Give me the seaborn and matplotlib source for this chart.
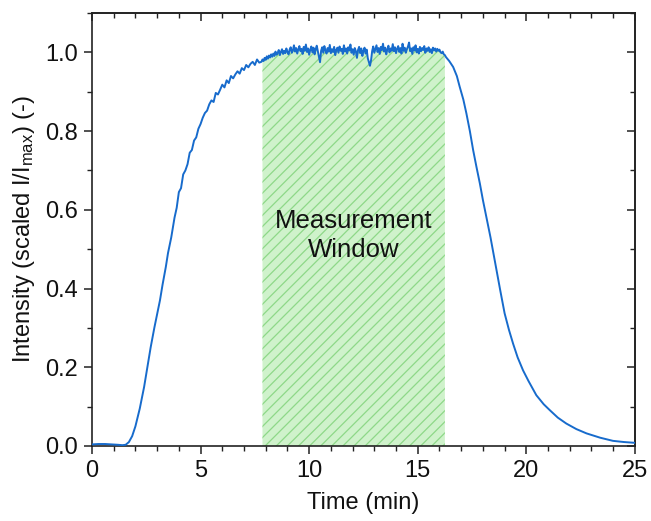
import numpy as np
import pandas as pd
import matplotlib
matplotlib.use('Agg')
import matplotlib.pyplot as plt
import seaborn as sns
from matplotlib.ticker import MultipleLocator, FormatStrFormatter

# rising edge (time in min, scaled intensity)
rise_time = [0.0, 0.3, 0.6, 0.9, 1.2, 1.4, 1.55, 1.7, 1.85, 2.0, 2.2, 2.4, 2.55, 2.7,
             2.87, 3.0, 3.13, 3.25, 3.4, 3.5, 3.65, 3.8, 3.9]
rise_val = [0.004, 0.005, 0.005, 0.004, 0.003, 0.002, 0.003, 0.010, 0.025, 0.050, 0.095,
            0.150, 0.200, 0.250, 0.300, 0.335, 0.370, 0.410, 0.455, 0.490, 0.530, 0.580, 0.605]

# noisy shoulder, every 0.1 min from 4.0 to 7.8
shoulder_start = 4.0
shoulder_val = [
    0.645, 0.655, 0.690, 0.700, 0.716, 0.745, 0.752, 0.776, 0.784, 0.806,
    0.818, 0.834, 0.846, 0.852, 0.868, 0.878, 0.874, 0.897, 0.893, 0.905,
    0.918, 0.911, 0.929, 0.922, 0.940, 0.934, 0.944, 0.952, 0.946, 0.960,
    0.955, 0.968, 0.962, 0.971, 0.976, 0.968, 0.982, 0.974, 0.976,
]

# plateau, every 0.05 min from 7.85 to 16.30
plateau_start = 7.85
plateau_val = [
    0.982, 0.978, 0.986, 0.981, 0.990, 0.984, 0.992, 0.987, 0.995, 0.989,
    0.997, 0.991, 1.002, 0.994, 0.999, 1.006, 0.993, 1.001, 1.008, 0.996,
    1.004, 0.998, 1.010, 1.001, 0.995, 1.007, 1.013, 0.999, 1.005, 1.018,
    1.002, 1.011, 0.997, 1.008, 1.016, 1.003, 1.009, 0.996, 1.014, 1.004,
    1.020, 1.001, 1.010, 0.994, 1.007, 1.015, 1.000, 1.012, 0.995, 1.008,
    1.017, 1.003, 0.988, 0.975, 1.004, 1.013, 0.999, 1.016, 1.005, 0.997,
    1.011, 1.002, 1.019, 0.998, 1.008, 1.001, 1.014, 0.993, 1.006, 1.012,
    0.999, 1.015, 1.004, 1.009, 0.996, 1.018, 1.002, 1.010, 0.997, 1.013,
    1.005, 1.020, 0.999, 1.008, 0.994, 1.011, 1.003, 0.986, 1.006, 1.014,
    0.998, 1.010, 0.991, 1.004, 1.012, 0.997, 1.007, 0.985, 0.975, 0.966,
    0.980, 1.003, 1.015, 0.999, 1.009, 1.018, 1.001, 1.011, 0.996, 1.014,
    1.006, 1.022, 1.002, 1.012, 0.995, 1.008, 1.017, 1.000, 1.010, 1.004,
    1.021, 1.003, 1.013, 0.998, 1.009, 1.016, 1.001, 1.011, 0.997, 1.022,
    1.004, 1.012, 0.999, 1.008, 1.015, 1.025, 1.003, 1.010, 0.996, 1.013,
    1.005, 1.018, 1.000, 1.009, 0.997, 1.014, 1.003, 1.011, 1.006, 1.016,
    0.999, 1.010, 1.004, 1.013, 1.001, 1.008, 0.998, 1.012, 1.005, 1.010,
    1.002, 1.009, 1.004, 1.007, 1.000, 0.998, 1.002, 0.995, 0.993, 0.988,
]

# falling edge and tail
fall_time = [16.45, 16.63, 16.8, 16.93, 17.1, 17.24, 17.4, 17.55, 17.7, 17.86, 18.0,
             18.16, 18.35, 18.6, 18.8, 19.0, 19.2, 19.39, 19.6, 19.85, 20.1, 20.46,
             20.8, 21.08, 21.45, 21.84, 22.3, 22.77, 23.4, 23.99, 24.5, 25.0]
fall_val = [0.978, 0.963, 0.940, 0.913, 0.880, 0.845, 0.800, 0.752, 0.710, 0.667, 0.625,
            0.582, 0.530, 0.455, 0.395, 0.337, 0.295, 0.260, 0.225, 0.192, 0.165, 0.129,
            0.106, 0.091, 0.072, 0.057, 0.043, 0.032, 0.021, 0.013, 0.010, 0.008]

window_start, window_end = 7.82, 16.26

shoulder_time = list(np.round(shoulder_start + 0.1 * np.arange(len(shoulder_val)), 2))
plateau_time = list(np.round(plateau_start + 0.05 * np.arange(len(plateau_val)), 2))
df = pd.DataFrame({
    'time': rise_time + shoulder_time + plateau_time + fall_time,
    'intensity': rise_val + shoulder_val + plateau_val + fall_val,
})

sns.set_theme(style='ticks')
plt.rcParams['font.family'] = ['Liberation Sans', 'DejaVu Sans']
plt.rcParams['mathtext.default'] = 'regular'
plt.rcParams['hatch.linewidth'] = 0.9

fig = plt.figure(figsize=(6.51, 5.21), dpi=100)
ax = fig.add_axes([0.1413, 0.144, 0.834, 0.831])

# measurement window, filled under the curve
win = df[(df['time'] >= window_start) & (df['time'] <= window_end)]
ax.fill_between(win['time'], 0, win['intensity'], facecolor='#cff2cb',
                edgecolor='#8ed888', hatch='///', linewidth=0, zorder=1)

sns.lineplot(data=df, x='time', y='intensity', color='#176bcc', linewidth=1.4,
             estimator=None, ax=ax, zorder=3)

ax.text((window_start + window_end) / 2, 0.535, 'Measurement\nWindow', ha='center',
        va='center', fontsize=18.5, linespacing=1.25, color='#111111')

ax.set_xlim(0, 25)
ax.set_ylim(0, 1.1)
ax.xaxis.set_major_locator(MultipleLocator(5))
ax.xaxis.set_minor_locator(MultipleLocator(1))
ax.yaxis.set_major_locator(MultipleLocator(0.2))
ax.yaxis.set_minor_locator(MultipleLocator(0.1))
ax.yaxis.set_major_formatter(FormatStrFormatter('%.1f'))

ax.set_xlabel('Time (min)', fontsize=17, labelpad=7, color='#111111')
ax.set_ylabel(r'Intensity (scaled I/I$_{max}$) (-)', fontsize=17, labelpad=6,
              color='#111111')

ax.tick_params(which='major', direction='out', length=6, width=1.1, labelsize=17,
               color='#222222', labelcolor='#111111', pad=4)
ax.tick_params(which='minor', direction='out', length=3.5, width=1.0, color='#222222')

for side in ['top', 'right', 'left', 'bottom']:
    ax.spines[side].set_visible(True)
    ax.spines[side].set_linewidth(1.2)
    ax.spines[side].set_color('#222222')

# inward ticks on the top and right sides
top = ax.secondary_xaxis('top')
top.xaxis.set_major_locator(MultipleLocator(5))
top.xaxis.set_minor_locator(MultipleLocator(1))
top.tick_params(which='major', direction='in', length=6, width=1.1, labeltop=False,
                color='#222222')
top.tick_params(which='minor', direction='in', length=3.5, width=1.0, color='#222222')
top.spines['top'].set_linewidth(1.2)

right = ax.secondary_yaxis('right')
right.yaxis.set_major_locator(MultipleLocator(0.2))
right.yaxis.set_minor_locator(MultipleLocator(0.1))
right.tick_params(which='major', direction='in', length=6, width=1.1, labelright=False,
                  color='#222222')
right.tick_params(which='minor', direction='in', length=3.5, width=1.0, color='#222222')
right.spines['right'].set_linewidth(1.2)

fig.savefig('out.png', dpi=100)
